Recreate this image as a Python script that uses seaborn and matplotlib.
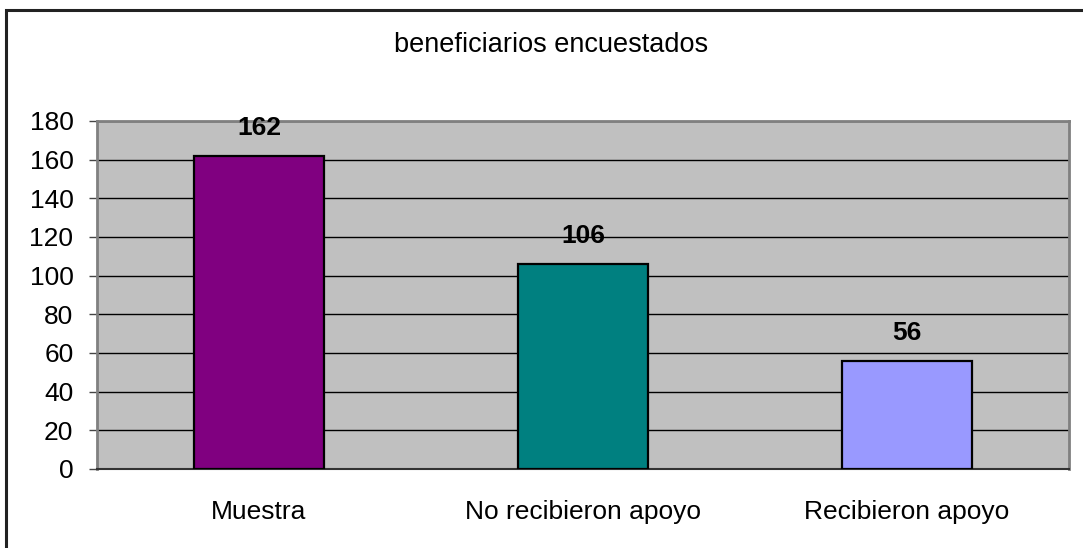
import matplotlib
matplotlib.use("Agg")
import matplotlib.pyplot as plt
from matplotlib.patches import Rectangle
import pandas as pd
import seaborn as sns

categories = ["Muestra", "No recibieron apoyo", "Recibieron apoyo"]
values = [162, 106, 56]
bar_colors = ["#800080", "#008080", "#9999FF"]
y_ticks = [0, 20, 40, 60, 80, 100, 120, 140, 160, 180]

sns.set_style("white")
plt.rcParams["font.family"] = ["Liberation Sans", "DejaVu Sans"]
plt.rcParams["text.color"] = "black"
plt.rcParams["xtick.color"] = "black"
plt.rcParams["ytick.color"] = "black"

df = pd.DataFrame({"categoria": categories, "valor": values})

fig = plt.figure(figsize=(10.83, 5.48), dpi=100)
# outer chart border, cropped on the right and bottom as in the original
fig.patches.append(Rectangle((6 / 1083, -0.2), 1.2, 1.2 - 10 / 548,
                             transform=fig.transFigure, fill=False,
                             edgecolor="#222222", linewidth=2.2))

ax = fig.add_axes([97 / 1083, 1 - 469 / 548, (1069 - 97) / 1083, (469 - 121) / 548])
ax.set_facecolor("#C0C0C0")

sns.barplot(data=df, x="categoria", y="valor", hue="categoria", palette=bar_colors,
            saturation=1, legend=False, width=0.4, edgecolor="black", linewidth=1.6,
            ax=ax, zorder=3)

ax.set_xlim(-0.5, len(categories) - 0.5)
ax.set_ylim(0, 180)
ax.set_yticks(y_ticks)
ax.yaxis.grid(True, color="black", linewidth=1, zorder=1)
ax.set_axisbelow(True)

ax.set_xticks(range(len(categories)))
ax.set_xticklabels(categories, fontsize=19)
ax.set_xticks([i - 0.5 for i in range(len(categories) + 1)], minor=True)
ax.tick_params(axis="x", which="major", length=0, pad=22)
ax.tick_params(axis="x", which="minor", length=6.5, width=1, color="#444444", direction="out")
ax.tick_params(axis="y", labelsize=19, length=6, width=1, color="#444444", pad=11, left=True)
ax.set_xlabel("")
ax.set_ylabel("")

for side in ["top", "right", "left"]:
    ax.spines[side].set_visible(True)
    ax.spines[side].set_color("#808080")
    ax.spines[side].set_linewidth(2)
ax.spines["bottom"].set_color("#333333")
ax.spines["bottom"].set_linewidth(1.5)

for i, v in enumerate(values):
    ax.annotate(str(v), (i, v), xytext=(0, 20), textcoords="offset points",
                ha="center", va="center", fontsize=19, fontweight="bold", zorder=5)

fig.text(551 / 1083, 1 - 45 / 548, "beneficiarios encuestados",
         ha="center", va="center", fontsize=19.5)

fig.savefig("out.png", dpi=100)
plt.close(fig)
